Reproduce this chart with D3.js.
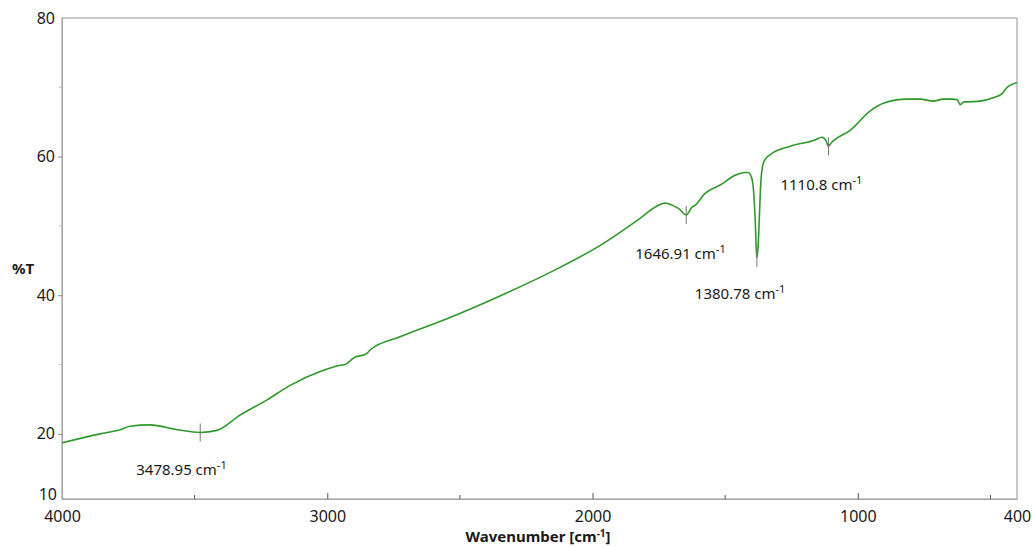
<!DOCTYPE html>
<html>
<head>
<meta charset="utf-8">
<script src="https://cdn.jsdelivr.net/npm/d3@7"></script>
<style>
  html, body { margin: 0; padding: 0; background: #fff; }
  svg { display: block; font-family: "Noto Sans", "Open Sans", sans-serif; }
</style>
</head>
<body>
<svg id="chart" width="1032" height="547"></svg>
<script>
// IR transmittance spectrum: wavenumber (cm-1) and %T
const wavenumbers = [4000, 3857, 3781, 3744, 3668, 3566, 3479, 3416, 3329, 3227, 3140, 3027, 2950, 2933, 2915, 2895, 2860, 2845, 2839, 2726, 2537, 2349, 2160, 1971, 1821, 1760, 1726, 1700, 1675, 1647, 1625, 1613, 1576, 1519, 1462, 1425, 1413, 1400, 1393, 1387, 1381, 1376, 1372, 1368, 1364, 1353, 1330, 1255, 1161, 1135, 1120, 1111, 1100, 1085, 1029, 953, 904, 814, 765, 716, 678, 644, 625, 614, 600, 588, 539, 490, 456, 437, 420, 400];
const transmittance = [18.7, 20.0, 20.6, 21.1, 21.3, 20.6, 20.2, 20.5, 22.7, 24.9, 27.0, 29.0, 29.9, 30.0, 30.5, 31.1, 31.4, 31.8, 32.1, 34.0, 36.8, 39.9, 43.3, 47.2, 51.1, 52.8, 53.3, 53.0, 52.5, 51.6, 52.7, 53.0, 54.7, 55.9, 57.3, 57.7, 57.7, 56.9, 55.0, 51.0, 45.4, 47.0, 50.5, 54.5, 57.2, 59.4, 60.3, 61.5, 62.4, 62.8, 62.3, 61.5, 62.0, 62.5, 63.8, 66.6, 67.7, 68.3, 68.3, 68.0, 68.3, 68.3, 68.2, 67.5, 67.9, 67.9, 68.0, 68.5, 69.1, 70.0, 70.4, 70.7];

// Labelled peaks
const peakWavenumbers = [3478.95, 1646.91, 1380.78, 1110.8];
const peakLabels = ["3478.95", "1646.91", "1380.78", "1110.8"];
const peakTransmittance = [20.2, 51.6, 45.4, 61.5];

// Axis ticks
const xTickValues = [4000, 3000, 2000, 1000, 400];
const xMinorTicks = [3500, 2500, 1500, 500];
const yTickValues = [20, 40, 60, 80];
const yMinorTicks = [30, 50, 70];
const yBottomLabel = "10";

const svg = d3.select("#chart");
const plotLeft = 62, plotRight = 1017, plotTop = 18, plotBottom = 499;

const x = d3.scaleLinear().domain([4000, 400]).range([plotLeft, plotRight]);
const y = d3.scaleLinear().domain([10.6, 80]).range([plotBottom, plotTop]);

const frameColor = "#a6a6a6";
const textColor = "#1a1a1a";

// Plot frame
svg.append("rect")
  .attr("x", plotLeft).attr("y", plotTop)
  .attr("width", plotRight - plotLeft).attr("height", plotBottom - plotTop)
  .attr("fill", "none").attr("stroke", frameColor).attr("stroke-width", 1.2);

// X axis ticks (pointing inward)
const xAxis = d3.axisBottom(x).tickValues(xTickValues).tickSizeInner(-6).tickSizeOuter(0).tickFormat(d3.format("d")).tickPadding(12);
const gx = svg.append("g").attr("transform", `translate(0,${plotBottom})`).call(xAxis);
gx.select(".domain").attr("stroke", frameColor);
gx.selectAll(".tick line").attr("stroke", "#555");
gx.selectAll(".tick text").attr("font-size", 16).attr("fill", textColor).attr("font-family", "Noto Sans");
gx.selectAll(".tick").filter(d => d === 400 || d === 4000).select("line").remove();

svg.append("g").selectAll("line").data(xMinorTicks).join("line")
  .attr("x1", d => x(d)).attr("x2", d => x(d))
  .attr("y1", plotBottom).attr("y2", plotBottom - 4)
  .attr("stroke", "#555");

// Y axis ticks (pointing outward)
const yAxis = d3.axisLeft(y).tickValues(yTickValues).tickSizeInner(4).tickSizeOuter(0).tickFormat(d3.format("d")).tickPadding(3);
const gy = svg.append("g").attr("transform", `translate(${plotLeft},0)`).call(yAxis);
gy.select(".domain").attr("stroke", frameColor);
gy.selectAll(".tick line").attr("stroke", "#888");
gy.selectAll(".tick text").attr("font-size", 16).attr("fill", textColor).attr("font-family", "Noto Sans");
gy.selectAll(".tick").filter(d => d === 80).select("line").remove();

svg.append("g").selectAll("line").data(yMinorTicks).join("line")
  .attr("x1", plotLeft).attr("x2", plotLeft - 3)
  .attr("y1", d => y(d)).attr("y2", d => y(d))
  .attr("stroke", "#bbb");

svg.append("text")
  .attr("x", plotLeft - 5).attr("y", plotBottom + 1)
  .attr("text-anchor", "end")
  .attr("font-size", 16).attr("fill", textColor)
  .text(yBottomLabel);

// Axis titles
svg.append("text")
  .attr("x", 23).attr("y", 270)
  .attr("text-anchor", "middle").attr("dominant-baseline", "middle")
  .attr("font-size", 15).attr("font-weight", "bold").attr("fill", textColor)
  .text("%T");

const xt = svg.append("text")
  .attr("x", 538).attr("y", 542)
  .attr("text-anchor", "middle")
  .attr("font-size", 15).attr("font-weight", "bold").attr("fill", textColor);
xt.append("tspan").text("Wavenumber [cm");
xt.append("tspan").attr("dy", -5).attr("font-size", 10).text("-1");
xt.append("tspan").attr("dy", 5).text("]");

// Spectrum line
const points = wavenumbers.map((w, i) => [w, transmittance[i]]);
svg.append("path")
  .datum(points)
  .attr("fill", "none")
  .attr("stroke", "#2e9a2a")
  .attr("stroke-width", 1.6)
  .attr("stroke-linejoin", "round")
  .attr("d", d3.line().x(d => x(d[0])).y(d => y(d[1])).curve(d3.curveMonotoneX));

// Peak markers and labels
const labelOffsets = [
  { dx: -64, dy: 43 },
  { dx: -51, dy: 44 },
  { dx: -62, dy: 41 },
  { dx: -48, dy: 44 }
];
peakWavenumbers.forEach((w, i) => {
  const px = x(w), py = y(peakTransmittance[i]);
  svg.append("line")
    .attr("x1", px).attr("x2", px)
    .attr("y1", py - 9).attr("y2", py + 9)
    .attr("stroke", "#777").attr("stroke-width", 1);
  const t = svg.append("text")
    .attr("x", px + labelOffsets[i].dx).attr("y", py + labelOffsets[i].dy)
    .attr("font-size", 15).attr("fill", textColor);
  t.append("tspan").text(peakLabels[i] + " cm");
  t.append("tspan").attr("dy", -6).attr("font-size", 11).text("-1");
});
</script>
</body>
</html>
